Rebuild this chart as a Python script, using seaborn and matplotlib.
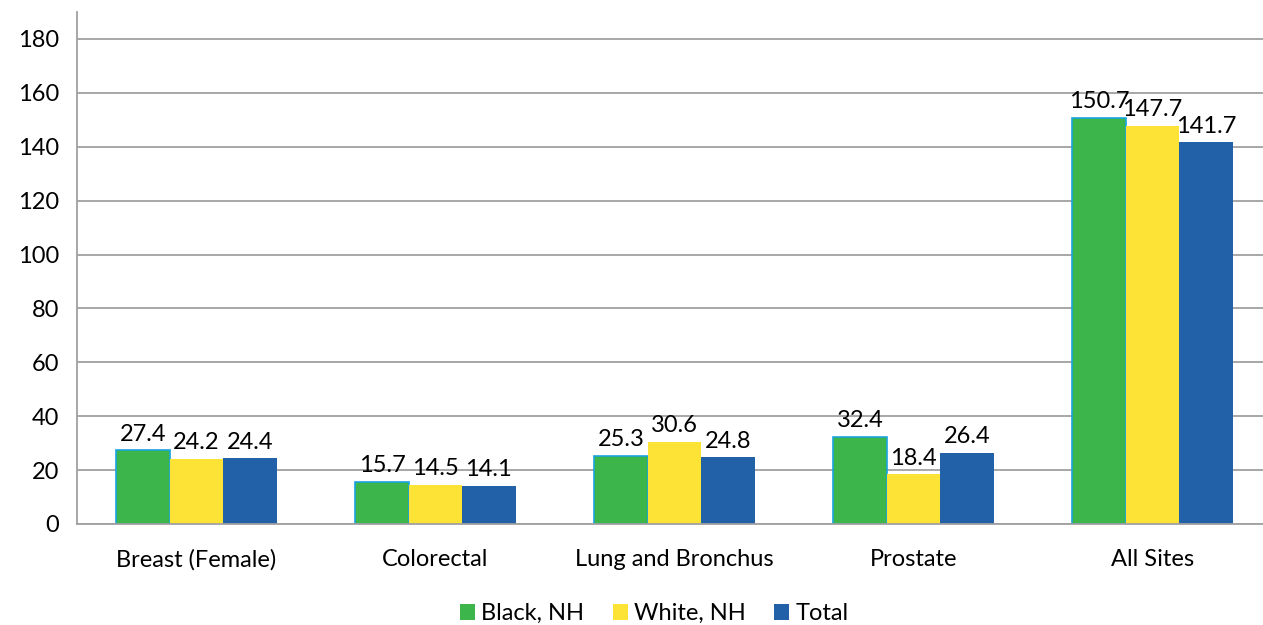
import pandas as pd
import numpy as np
import seaborn as sns
import matplotlib.pyplot as plt

sns.set_style("white")
plt.rcParams['font.family'] = ['Lato', 'DejaVu Sans']
plt.rcParams['text.color'] = 'black'
plt.rcParams['xtick.color'] = 'black'
plt.rcParams['ytick.color'] = 'black'

categories = ["Breast (Female)", "Colorectal", "Lung and Bronchus", "Prostate", "All Sites"]
series = ["Black, NH", "White, NH", "Total"]
black_nh = [27.4, 15.7, 25.3, 32.4, 150.7]
white_nh = [24.2, 14.5, 30.6, 18.4, 147.7]
total = [24.4, 14.1, 24.8, 26.4, 141.7]
colors = ["#3CB54A", "#FDE335", "#2260A8"]

df = pd.DataFrame({
    "site": categories * 3,
    "group": [s for s in series for _ in categories],
    "rate": black_nh + white_nh + total,
})

fig = plt.figure(figsize=(12.63, 6.25), dpi=100)
ax = fig.add_axes([77 / 1263, 101 / 625, 1195 / 1263, 512 / 625])
sns.barplot(data=df, x="site", y="rate", hue="group", hue_order=series,
            palette=colors, width=0.67, saturation=1, errorbar=None, ax=ax,
            linewidth=0)

# thin blue outline on the green bars like the original
for p in ax.containers[0]:
    p.set_edgecolor("#1AA3DE")
    p.set_linewidth(1.2)

for cont in ax.containers:
    ax.bar_label(cont, fmt="%.1f", padding=4, fontsize=17, color="black")

ax.set_ylim(0, 190)
ax.set_xlim(-0.5, 4.5)
ax.set_yticks(np.arange(0, 181, 20))
ax.yaxis.grid(True, color="#A0A0A0", linewidth=1.3)
ax.set_axisbelow(True)
ax.set_xlabel("")
ax.set_ylabel("")
for s in ["top", "right"]:
    ax.spines[s].set_visible(False)
for s in ["left", "bottom"]:
    ax.spines[s].set_color("#A0A0A0")
    ax.spines[s].set_linewidth(1.3)
ax.tick_params(axis="y", length=9, width=1.3, color="#A0A0A0", labelcolor="black",
               labelsize=17, pad=4)
ax.tick_params(axis="x", length=0, labelsize=17, labelcolor="black", pad=18)
ax.set_xticks(np.arange(-0.5, 4.6, 1), minor=True)
ax.tick_params(axis="x", which="minor", length=8, width=1.3, color="#A0A0A0")

handles, labels = ax.get_legend_handles_labels()
leg = ax.legend(handles, labels, loc="center", bbox_to_anchor=(0.483, -0.175),
                ncol=3, frameon=False, fontsize=17, handlelength=0.65, handleheight=0.65,
                handletextpad=0.25, columnspacing=1.2)
for t in leg.get_texts():
    t.set_color("black")

fig.savefig("out.png", dpi=100)
